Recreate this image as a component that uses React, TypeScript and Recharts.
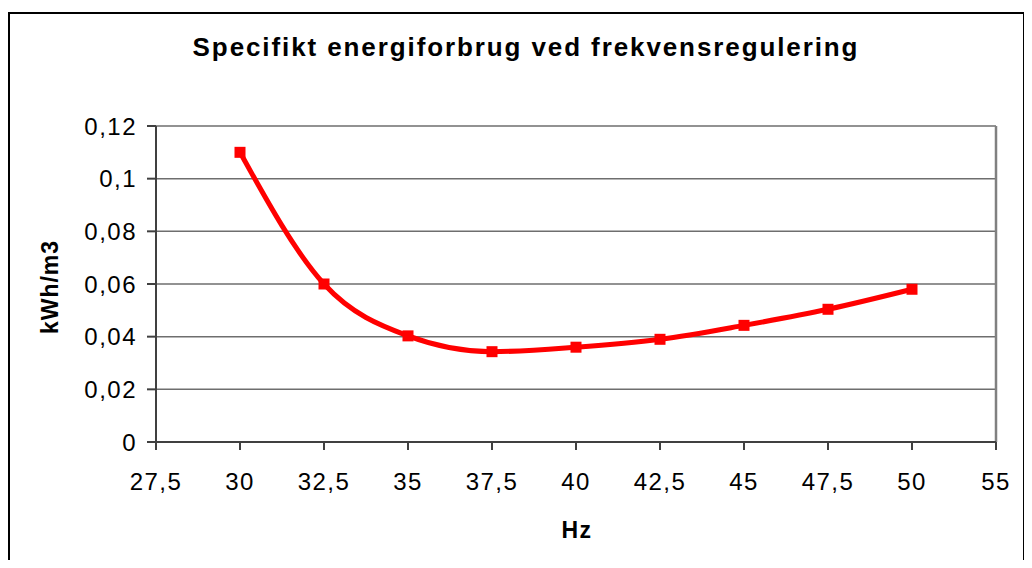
import { CartesianGrid, Line, LineChart, ReferenceLine, XAxis, YAxis } from "recharts"

const HZ = [27.5, 30, 32.5, 35, 37.5, 40, 42.5, 45, 47.5, 50, 55]
const KWH_PER_M3 = [null, 0.11, 0.06, 0.0403, 0.0343, 0.036, 0.039, 0.0443, 0.0504, 0.058, null]
const Y_TICKS = [0, 0.02, 0.04, 0.06, 0.08, 0.1, 0.12]

const FONT = '"Liberation Sans", Arial, sans-serif'

const data = HZ.map((hz, i) => ({ hz, kwh: KWH_PER_M3[i] }))

const comma = (v: number | string) => String(v).replace(".", ",")

function SquareDot(props: any) {
  const { cx, cy, index } = props
  if (cx == null || cy == null || props.value == null) return <g key={`d-${index}`} />
  return <rect key={`d-${index}`} x={cx - 5.5} y={cy - 5.5} width={11} height={11} fill="#ff0000" />
}

const tickStyle = { fontSize: 24, fill: "#000", fontFamily: FONT, letterSpacing: 1.5 }

export default function App() {
  return (
    <div style={{ height: 560, marginBottom: -8, overflow: "hidden", fontFamily: FONT }}>
      <div
        style={{
          position: "relative",
          marginTop: 4,
          width: 1013,
          height: 600,
          border: "2px solid #000",
          background: "#fff",
        }}
      >
        <div
          style={{
            position: "absolute",
            left: 516,
            top: 20,
            transform: "translateX(-50%)",
            whiteSpace: "nowrap",
            fontSize: 26,
            lineHeight: "26px",
            fontWeight: "bold",
            letterSpacing: 1.9,
          }}
        >
          Specifikt energiforbrug ved frekvensregulering
        </div>
        <div
          style={{
            position: "absolute",
            left: 40,
            top: 273,
            transform: "translate(-50%, -50%) rotate(-90deg)",
            whiteSpace: "nowrap",
            fontSize: 23,
            lineHeight: "23px",
            fontWeight: "bold",
            letterSpacing: 1,
          }}
        >
          kWh/m3
        </div>
        <div
          style={{
            position: "absolute",
            left: 567,
            top: 516,
            transform: "translate(-50%, -50%)",
            whiteSpace: "nowrap",
            fontSize: 23,
            lineHeight: "23px",
            fontWeight: "bold",
            letterSpacing: 1.5,
          }}
        >
          Hz
        </div>
        <LineChart width={1013} height={500} data={data} margin={{ top: 112, right: 27, bottom: 0, left: 0 }}>
          <CartesianGrid vertical={false} stroke="#6e6e6e" strokeWidth={1.5} />
          <XAxis
            dataKey="hz"
            interval={0}
            height={72}
            tickSize={8}
            tickMargin={23}
            tickFormatter={comma}
            axisLine={{ stroke: "#404040", strokeWidth: 2 }}
            tickLine={{ stroke: "#404040", strokeWidth: 2 }}
            tick={tickStyle}
          />
          <YAxis
            width={146}
            domain={[0, 0.12]}
            ticks={Y_TICKS}
            interval={0}
            tickSize={9}
            tickMargin={10}
            tickFormatter={comma}
            axisLine={{ stroke: "#404040", strokeWidth: 2 }}
            tickLine={{ stroke: "#404040", strokeWidth: 2 }}
            tick={tickStyle}
          />
          <ReferenceLine x={55} stroke="#808080" strokeWidth={2.5} />
          <Line
            type="monotone"
            dataKey="kwh"
            stroke="#ff0000"
            strokeWidth={5}
            dot={SquareDot}
            activeDot={false}
            isAnimationActive={false}
          />
        </LineChart>
      </div>
    </div>
  )
}
